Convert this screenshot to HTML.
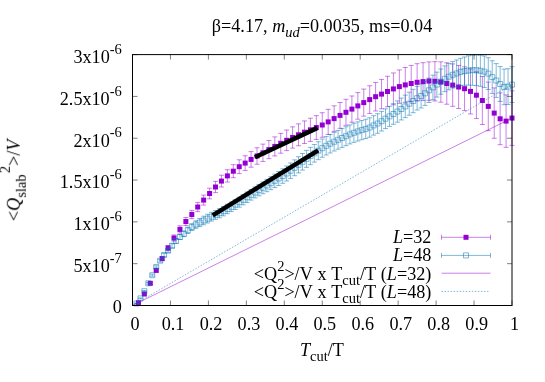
<!DOCTYPE html><html><head><meta charset="utf-8"><style>html,body{margin:0;padding:0;background:#fff}svg{display:block}text{font-family:"Liberation Serif",serif;fill:#000}</style></head><body>
<svg width="545" height="382" viewBox="0 0 545 382">
<rect width="545" height="382" fill="#fff"/>
<g>
<g stroke="#9400D3" stroke-width="0.5" fill="none">
<path d="M138.43 302.30V303.10"/><path d="M135.93 302.30h5"/><path d="M135.93 303.10h5"/>
<path d="M144.36 293.20V294.80"/><path d="M141.86 293.20h5"/><path d="M141.86 294.80h5"/>
<path d="M150.29 282.10V284.50"/><path d="M147.79 282.10h5"/><path d="M147.79 284.50h5"/>
<path d="M156.22 268.80V272.00"/><path d="M153.72 268.80h5"/><path d="M153.72 272.00h5"/>
<path d="M162.15 256.56V260.64"/><path d="M159.65 256.56h5"/><path d="M159.65 260.64h5"/>
<path d="M168.08 245.50V250.50"/><path d="M165.58 245.50h5"/><path d="M165.58 250.50h5"/>
<path d="M174.01 234.93V241.07"/><path d="M171.51 234.93h5"/><path d="M171.51 241.07h5"/>
<path d="M179.94 225.75V233.05"/><path d="M177.44 225.75h5"/><path d="M177.44 233.05h5"/>
<path d="M185.87 217.50V225.50"/><path d="M183.37 217.50h5"/><path d="M183.37 225.50h5"/>
<path d="M191.80 210.40V218.60"/><path d="M189.30 210.40h5"/><path d="M189.30 218.60h5"/>
<path d="M197.73 202.40V211.60"/><path d="M195.23 202.40h5"/><path d="M195.23 211.60h5"/>
<path d="M203.66 195.10V205.10"/><path d="M201.16 195.10h5"/><path d="M201.16 205.10h5"/>
<path d="M209.59 188.17V198.83"/><path d="M207.09 188.17h5"/><path d="M207.09 198.83h5"/>
<path d="M215.52 181.39V192.61"/><path d="M213.02 181.39h5"/><path d="M213.02 192.61h5"/>
<path d="M221.45 175.22V186.98"/><path d="M218.95 175.22h5"/><path d="M218.95 186.98h5"/>
<path d="M227.38 169.73V182.07"/><path d="M224.88 169.73h5"/><path d="M224.88 182.07h5"/>
<path d="M233.30 164.70V177.70"/><path d="M230.80 164.70h5"/><path d="M230.80 177.70h5"/>
<path d="M239.23 159.80V173.60"/><path d="M236.73 159.80h5"/><path d="M236.73 173.60h5"/>
<path d="M245.16 155.75V170.45"/><path d="M242.66 155.75h5"/><path d="M242.66 170.45h5"/>
<path d="M251.09 151.60V167.20"/><path d="M248.59 151.60h5"/><path d="M248.59 167.20h5"/>
<path d="M257.02 147.78V164.24"/><path d="M254.52 147.78h5"/><path d="M254.52 164.24h5"/>
<path d="M262.95 144.11V161.44"/><path d="M260.45 144.11h5"/><path d="M260.45 161.44h5"/>
<path d="M268.88 140.50V158.70"/><path d="M266.38 140.50h5"/><path d="M266.38 158.70h5"/>
<path d="M274.81 136.90V155.94"/><path d="M272.31 136.90h5"/><path d="M272.31 155.94h5"/>
<path d="M280.74 133.36V153.21"/><path d="M278.24 133.36h5"/><path d="M278.24 153.21h5"/>
<path d="M286.67 130.00V150.60"/><path d="M284.17 130.00h5"/><path d="M284.17 150.60h5"/>
<path d="M292.60 126.84V148.13"/><path d="M290.10 126.84h5"/><path d="M290.10 148.13h5"/>
<path d="M298.53 123.83V145.75"/><path d="M296.03 123.83h5"/><path d="M296.03 145.75h5"/>
<path d="M304.46 120.93V143.47"/><path d="M301.96 120.93h5"/><path d="M301.96 143.47h5"/>
<path d="M310.39 118.24V141.39"/><path d="M307.89 118.24h5"/><path d="M307.89 141.39h5"/>
<path d="M316.32 115.63V139.43"/><path d="M313.82 115.63h5"/><path d="M313.82 139.43h5"/>
<path d="M322.25 112.72V137.28"/><path d="M319.75 112.72h5"/><path d="M319.75 137.28h5"/>
<path d="M328.18 109.30V134.50"/><path d="M325.68 109.30h5"/><path d="M325.68 134.50h5"/>
<path d="M334.11 105.82V131.38"/><path d="M331.61 105.82h5"/><path d="M331.61 131.38h5"/>
<path d="M340.04 102.50V128.30"/><path d="M337.54 102.50h5"/><path d="M337.54 128.30h5"/>
<path d="M345.97 99.29V125.31"/><path d="M343.47 99.29h5"/><path d="M343.47 125.31h5"/>
<path d="M351.90 95.97V122.23"/><path d="M349.40 95.97h5"/><path d="M349.40 122.23h5"/>
<path d="M357.83 92.60V119.20"/><path d="M355.33 92.60h5"/><path d="M355.33 119.20h5"/>
<path d="M363.76 89.05V116.15"/><path d="M361.26 89.05h5"/><path d="M361.26 116.15h5"/>
<path d="M369.69 85.72V113.48"/><path d="M367.19 85.72h5"/><path d="M367.19 113.48h5"/>
<path d="M375.62 82.43V110.97"/><path d="M373.12 82.43h5"/><path d="M373.12 110.97h5"/>
<path d="M381.55 79.40V108.80"/><path d="M379.05 79.40h5"/><path d="M379.05 108.80h5"/>
<path d="M387.48 76.26V106.74"/><path d="M384.98 76.26h5"/><path d="M384.98 106.74h5"/>
<path d="M393.41 72.96V104.84"/><path d="M390.91 72.96h5"/><path d="M390.91 104.84h5"/>
<path d="M399.34 69.91V103.29"/><path d="M396.84 69.91h5"/><path d="M396.84 103.29h5"/>
<path d="M405.27 67.46V102.34"/><path d="M402.77 67.46h5"/><path d="M402.77 102.34h5"/>
<path d="M411.20 65.40V101.60"/><path d="M408.70 65.40h5"/><path d="M408.70 101.60h5"/>
<path d="M417.12 63.70V100.90"/><path d="M414.62 63.70h5"/><path d="M414.62 100.90h5"/>
<path d="M423.05 62.70V100.50"/><path d="M420.55 62.70h5"/><path d="M420.55 100.50h5"/>
<path d="M428.98 61.90V100.30"/><path d="M426.48 61.90h5"/><path d="M426.48 100.30h5"/>
<path d="M434.91 61.63V100.97"/><path d="M432.41 61.63h5"/><path d="M432.41 100.97h5"/>
<path d="M440.84 61.80V102.20"/><path d="M438.34 61.80h5"/><path d="M438.34 102.20h5"/>
<path d="M446.77 62.78V104.22"/><path d="M444.27 62.78h5"/><path d="M444.27 104.22h5"/>
<path d="M452.70 63.90V106.30"/><path d="M450.20 63.90h5"/><path d="M450.20 106.30h5"/>
<path d="M458.63 65.46V108.54"/><path d="M456.13 65.46h5"/><path d="M456.13 108.54h5"/>
<path d="M464.56 66.80V110.60"/><path d="M462.06 66.80h5"/><path d="M462.06 110.60h5"/>
<path d="M470.49 68.84V113.96"/><path d="M467.99 68.84h5"/><path d="M467.99 113.96h5"/>
<path d="M476.42 71.82V118.58"/><path d="M473.92 71.82h5"/><path d="M473.92 118.58h5"/>
<path d="M482.35 76.50V124.50"/><path d="M479.85 76.50h5"/><path d="M479.85 124.50h5"/>
<path d="M488.28 82.10V130.70"/><path d="M485.78 82.10h5"/><path d="M485.78 130.70h5"/>
<path d="M494.21 87.90V138.30"/><path d="M491.71 87.90h5"/><path d="M491.71 138.30h5"/>
<path d="M500.14 92.90V144.70"/><path d="M497.64 92.90h5"/><path d="M497.64 144.70h5"/>
<path d="M506.07 94.90V147.30"/><path d="M503.57 94.90h5"/><path d="M503.57 147.30h5"/>
<path d="M512.00 90.80V145.40"/><path d="M509.50 90.80h5"/><path d="M509.50 145.40h5"/>
</g>
<g fill="#9400D3">
<path d="M135.93 300.20h5v5h-5z"/>
<path d="M141.86 291.50h5v5h-5z"/>
<path d="M147.79 280.80h5v5h-5z"/>
<path d="M153.72 267.90h5v5h-5z"/>
<path d="M159.65 256.10h5v5h-5z"/>
<path d="M165.58 245.50h5v5h-5z"/>
<path d="M171.51 235.50h5v5h-5z"/>
<path d="M177.44 226.90h5v5h-5z"/>
<path d="M183.37 219.00h5v5h-5z"/>
<path d="M189.30 212.00h5v5h-5z"/>
<path d="M195.23 204.50h5v5h-5z"/>
<path d="M201.16 197.60h5v5h-5z"/>
<path d="M207.09 191.00h5v5h-5z"/>
<path d="M213.02 184.50h5v5h-5z"/>
<path d="M218.95 178.60h5v5h-5z"/>
<path d="M224.88 173.40h5v5h-5z"/>
<path d="M230.80 168.70h5v5h-5z"/>
<path d="M236.73 164.20h5v5h-5z"/>
<path d="M242.66 160.60h5v5h-5z"/>
<path d="M248.59 156.90h5v5h-5z"/>
<path d="M254.52 153.51h5v5h-5z"/>
<path d="M260.45 150.28h5v5h-5z"/>
<path d="M266.38 147.10h5v5h-5z"/>
<path d="M272.31 143.92h5v5h-5z"/>
<path d="M278.24 140.79h5v5h-5z"/>
<path d="M284.17 137.80h5v5h-5z"/>
<path d="M290.10 134.98h5v5h-5z"/>
<path d="M296.03 132.29h5v5h-5z"/>
<path d="M301.96 129.70h5v5h-5z"/>
<path d="M307.89 127.32h5v5h-5z"/>
<path d="M313.82 125.03h5v5h-5z"/>
<path d="M319.75 122.50h5v5h-5z"/>
<path d="M325.68 119.40h5v5h-5z"/>
<path d="M331.61 116.10h5v5h-5z"/>
<path d="M337.54 112.90h5v5h-5z"/>
<path d="M343.47 109.80h5v5h-5z"/>
<path d="M349.40 106.60h5v5h-5z"/>
<path d="M355.33 103.40h5v5h-5z"/>
<path d="M361.26 100.10h5v5h-5z"/>
<path d="M367.19 97.10h5v5h-5z"/>
<path d="M373.12 94.20h5v5h-5z"/>
<path d="M379.05 91.60h5v5h-5z"/>
<path d="M384.98 89.00h5v5h-5z"/>
<path d="M390.91 86.40h5v5h-5z"/>
<path d="M396.84 84.10h5v5h-5z"/>
<path d="M402.77 82.40h5v5h-5z"/>
<path d="M408.70 81.00h5v5h-5z"/>
<path d="M414.62 79.80h5v5h-5z"/>
<path d="M420.55 79.10h5v5h-5z"/>
<path d="M426.48 78.60h5v5h-5z"/>
<path d="M432.41 78.80h5v5h-5z"/>
<path d="M438.34 79.50h5v5h-5z"/>
<path d="M444.27 81.00h5v5h-5z"/>
<path d="M450.20 82.60h5v5h-5z"/>
<path d="M456.13 84.50h5v5h-5z"/>
<path d="M462.06 86.20h5v5h-5z"/>
<path d="M467.99 88.90h5v5h-5z"/>
<path d="M473.92 92.70h5v5h-5z"/>
<path d="M479.85 98.00h5v5h-5z"/>
<path d="M485.78 103.90h5v5h-5z"/>
<path d="M491.71 110.60h5v5h-5z"/>
<path d="M497.64 116.30h5v5h-5z"/>
<path d="M503.57 118.60h5v5h-5z"/>
<path d="M509.50 115.60h5v5h-5z"/>
</g>
<g stroke="#0072B2" stroke-width="0.5" fill="none">
<path d="M136.45 303.20V303.80"/><path d="M133.95 303.20h5"/><path d="M133.95 303.80h5"/><path d="M133.95 301.00h5v5h-5z"/>
<path d="M140.41 297.93V298.87"/><path d="M137.91 297.93h5"/><path d="M137.91 298.87h5"/><path d="M137.91 295.90h5v5h-5z"/>
<path d="M144.36 290.56V291.84"/><path d="M141.86 290.56h5"/><path d="M141.86 291.84h5"/><path d="M141.86 288.70h5v5h-5z"/>
<path d="M148.31 282.48V284.12"/><path d="M145.81 282.48h5"/><path d="M145.81 284.12h5"/><path d="M145.81 280.80h5v5h-5z"/>
<path d="M152.27 274.20V276.20"/><path d="M149.77 274.20h5"/><path d="M149.77 276.20h5"/><path d="M149.77 272.70h5v5h-5z"/>
<path d="M156.22 265.81V268.19"/><path d="M153.72 265.81h5"/><path d="M153.72 268.19h5"/><path d="M153.72 264.50h5v5h-5z"/>
<path d="M160.17 259.33V262.07"/><path d="M157.67 259.33h5"/><path d="M157.67 262.07h5"/><path d="M157.67 258.20h5v5h-5z"/>
<path d="M164.12 253.43V256.57"/><path d="M161.62 253.43h5"/><path d="M161.62 256.57h5"/><path d="M161.62 252.50h5v5h-5z"/>
<path d="M168.08 248.82V252.38"/><path d="M165.58 248.82h5"/><path d="M165.58 252.38h5"/><path d="M165.58 248.10h5v5h-5z"/>
<path d="M172.03 243.80V247.80"/><path d="M169.53 243.80h5"/><path d="M169.53 247.80h5"/><path d="M169.53 243.30h5v5h-5z"/>
<path d="M175.98 238.75V243.25"/><path d="M173.48 238.75h5"/><path d="M173.48 243.25h5"/><path d="M173.48 238.50h5v5h-5z"/>
<path d="M179.94 234.48V239.52"/><path d="M177.44 234.48h5"/><path d="M177.44 239.52h5"/><path d="M177.44 234.50h5v5h-5z"/>
<path d="M183.89 230.99V236.61"/><path d="M181.39 230.99h5"/><path d="M181.39 236.61h5"/><path d="M181.39 231.30h5v5h-5z"/>
<path d="M187.84 227.19V233.41"/><path d="M185.34 227.19h5"/><path d="M185.34 233.41h5"/><path d="M185.34 227.80h5v5h-5z"/>
<path d="M191.80 223.70V230.50"/><path d="M189.30 223.70h5"/><path d="M189.30 230.50h5"/><path d="M189.30 224.60h5v5h-5z"/>
<path d="M195.75 220.86V228.34"/><path d="M193.25 220.86h5"/><path d="M193.25 228.34h5"/><path d="M193.25 222.10h5v5h-5z"/>
<path d="M199.70 218.41V226.59"/><path d="M197.20 218.41h5"/><path d="M197.20 226.59h5"/><path d="M197.20 220.00h5v5h-5z"/>
<path d="M203.66 216.20V224.80"/><path d="M201.16 216.20h5"/><path d="M201.16 224.80h5"/><path d="M201.16 218.00h5v5h-5z"/>
<path d="M207.61 214.24V222.96"/><path d="M205.11 214.24h5"/><path d="M205.11 222.96h5"/><path d="M205.11 216.10h5v5h-5z"/>
<path d="M211.56 212.30V221.10"/><path d="M209.06 212.30h5"/><path d="M209.06 221.10h5"/><path d="M209.06 214.20h5v5h-5z"/>
<path d="M215.52 210.43V219.37"/><path d="M213.02 210.43h5"/><path d="M213.02 219.37h5"/><path d="M213.02 212.40h5v5h-5z"/>
<path d="M219.47 208.66V217.74"/><path d="M216.97 208.66h5"/><path d="M216.97 217.74h5"/><path d="M216.97 210.70h5v5h-5z"/>
<path d="M223.42 206.58V215.82"/><path d="M220.92 206.58h5"/><path d="M220.92 215.82h5"/><path d="M220.92 208.70h5v5h-5z"/>
<path d="M227.38 204.29V213.71"/><path d="M224.88 204.29h5"/><path d="M224.88 213.71h5"/><path d="M224.88 206.50h5v5h-5z"/>
<path d="M231.33 202.00V211.60"/><path d="M228.83 202.00h5"/><path d="M228.83 211.60h5"/><path d="M228.83 204.30h5v5h-5z"/>
<path d="M235.28 199.71V209.49"/><path d="M232.78 199.71h5"/><path d="M232.78 209.49h5"/><path d="M232.78 202.10h5v5h-5z"/>
<path d="M239.23 197.25V207.20"/><path d="M236.73 197.25h5"/><path d="M236.73 207.20h5"/><path d="M236.73 199.73h5v5h-5z"/>
<path d="M243.19 194.68V204.81"/><path d="M240.69 194.68h5"/><path d="M240.69 204.81h5"/><path d="M240.69 197.25h5v5h-5z"/>
<path d="M247.14 192.07V202.42"/><path d="M244.64 192.07h5"/><path d="M244.64 202.42h5"/><path d="M244.64 194.74h5v5h-5z"/>
<path d="M251.09 189.50V200.10"/><path d="M248.59 189.50h5"/><path d="M248.59 200.10h5"/><path d="M248.59 192.30h5v5h-5z"/>
<path d="M255.05 186.98V197.91"/><path d="M252.55 186.98h5"/><path d="M252.55 197.91h5"/><path d="M252.55 189.95h5v5h-5z"/>
<path d="M259.00 184.47V195.81"/><path d="M256.50 184.47h5"/><path d="M256.50 195.81h5"/><path d="M256.50 187.64h5v5h-5z"/>
<path d="M262.95 181.94V193.75"/><path d="M260.45 181.94h5"/><path d="M260.45 193.75h5"/><path d="M260.45 185.35h5v5h-5z"/>
<path d="M266.91 179.37V191.71"/><path d="M264.41 179.37h5"/><path d="M264.41 191.71h5"/><path d="M264.41 183.04h5v5h-5z"/>
<path d="M270.86 176.75V189.65"/><path d="M268.36 176.75h5"/><path d="M268.36 189.65h5"/><path d="M268.36 180.70h5v5h-5z"/>
<path d="M274.81 174.11V187.58"/><path d="M272.31 174.11h5"/><path d="M272.31 187.58h5"/><path d="M272.31 178.35h5v5h-5z"/>
<path d="M278.77 171.48V185.49"/><path d="M276.27 171.48h5"/><path d="M276.27 185.49h5"/><path d="M276.27 175.99h5v5h-5z"/>
<path d="M282.72 168.79V183.32"/><path d="M280.22 168.79h5"/><path d="M280.22 183.32h5"/><path d="M280.22 173.56h5v5h-5z"/>
<path d="M286.67 166.00V181.00"/><path d="M284.17 166.00h5"/><path d="M284.17 181.00h5"/><path d="M284.17 171.00h5v5h-5z"/>
<path d="M290.62 163.01V178.43"/><path d="M288.12 163.01h5"/><path d="M288.12 178.43h5"/><path d="M288.12 168.22h5v5h-5z"/>
<path d="M294.58 159.88V175.72"/><path d="M292.08 159.88h5"/><path d="M292.08 175.72h5"/><path d="M292.08 165.30h5v5h-5z"/>
<path d="M298.53 156.69V172.92"/><path d="M296.03 156.69h5"/><path d="M296.03 172.92h5"/><path d="M296.03 162.31h5v5h-5z"/>
<path d="M302.48 153.50V170.10"/><path d="M299.98 153.50h5"/><path d="M299.98 170.10h5"/><path d="M299.98 159.30h5v5h-5z"/>
<path d="M306.44 150.38V167.33"/><path d="M303.94 150.38h5"/><path d="M303.94 167.33h5"/><path d="M303.94 156.36h5v5h-5z"/>
<path d="M310.39 147.35V164.65"/><path d="M307.89 147.35h5"/><path d="M307.89 164.65h5"/><path d="M307.89 153.50h5v5h-5z"/>
<path d="M314.34 144.47V162.12"/><path d="M311.84 144.47h5"/><path d="M311.84 162.12h5"/><path d="M311.84 150.79h5v5h-5z"/>
<path d="M318.30 141.72V159.68"/><path d="M315.80 141.72h5"/><path d="M315.80 159.68h5"/><path d="M315.80 148.20h5v5h-5z"/>
<path d="M322.25 139.07V157.28"/><path d="M319.75 139.07h5"/><path d="M319.75 157.28h5"/><path d="M319.75 145.67h5v5h-5z"/>
<path d="M326.20 136.60V155.00"/><path d="M323.70 136.60h5"/><path d="M323.70 155.00h5"/><path d="M323.70 143.30h5v5h-5z"/>
<path d="M330.16 134.44V152.96"/><path d="M327.66 134.44h5"/><path d="M327.66 152.96h5"/><path d="M327.66 141.20h5v5h-5z"/>
<path d="M334.11 132.40V151.02"/><path d="M331.61 132.40h5"/><path d="M331.61 151.02h5"/><path d="M331.61 139.21h5v5h-5z"/>
<path d="M338.06 130.44V149.16"/><path d="M335.56 130.44h5"/><path d="M335.56 149.16h5"/><path d="M335.56 137.30h5v5h-5z"/>
<path d="M342.02 128.60V147.40"/><path d="M339.52 128.60h5"/><path d="M339.52 147.40h5"/><path d="M339.52 135.50h5v5h-5z"/>
<path d="M345.97 126.75V145.64"/><path d="M343.47 126.75h5"/><path d="M343.47 145.64h5"/><path d="M343.47 133.70h5v5h-5z"/>
<path d="M349.92 124.94V143.91"/><path d="M347.42 124.94h5"/><path d="M347.42 143.91h5"/><path d="M347.42 131.92h5v5h-5z"/>
<path d="M353.88 123.27V142.33"/><path d="M351.38 123.27h5"/><path d="M351.38 142.33h5"/><path d="M351.38 130.30h5v5h-5z"/>
<path d="M357.83 121.83V140.98"/><path d="M355.33 121.83h5"/><path d="M355.33 140.98h5"/><path d="M355.33 128.90h5v5h-5z"/>
<path d="M361.78 120.49V139.71"/><path d="M359.28 120.49h5"/><path d="M359.28 139.71h5"/><path d="M359.28 127.60h5v5h-5z"/>
<path d="M365.73 119.23V138.54"/><path d="M363.23 119.23h5"/><path d="M363.23 138.54h5"/><path d="M363.23 126.38h5v5h-5z"/>
<path d="M369.69 117.80V137.20"/><path d="M367.19 117.80h5"/><path d="M367.19 137.20h5"/><path d="M367.19 125.00h5v5h-5z"/>
<path d="M373.64 115.66V135.14"/><path d="M371.14 115.66h5"/><path d="M371.14 135.14h5"/><path d="M371.14 122.90h5v5h-5z"/>
<path d="M377.59 113.72V133.28"/><path d="M375.09 113.72h5"/><path d="M375.09 133.28h5"/><path d="M375.09 121.00h5v5h-5z"/>
<path d="M381.55 111.37V131.03"/><path d="M379.05 111.37h5"/><path d="M379.05 131.03h5"/><path d="M379.05 118.70h5v5h-5z"/>
<path d="M385.50 108.80V128.60"/><path d="M383.00 108.80h5"/><path d="M383.00 128.60h5"/><path d="M383.00 116.20h5v5h-5z"/>
<path d="M389.45 106.30V126.40"/><path d="M386.95 106.30h5"/><path d="M386.95 126.40h5"/><path d="M386.95 113.85h5v5h-5z"/>
<path d="M393.41 103.70V124.30"/><path d="M390.91 103.70h5"/><path d="M390.91 124.30h5"/><path d="M390.91 111.50h5v5h-5z"/>
<path d="M397.36 100.92V122.16"/><path d="M394.86 100.92h5"/><path d="M394.86 122.16h5"/><path d="M394.86 109.04h5v5h-5z"/>
<path d="M401.31 98.05V119.95"/><path d="M398.81 98.05h5"/><path d="M398.81 119.95h5"/><path d="M398.81 106.50h5v5h-5z"/>
<path d="M405.27 95.11V117.64"/><path d="M402.77 95.11h5"/><path d="M402.77 117.64h5"/><path d="M402.77 103.88h5v5h-5z"/>
<path d="M409.22 92.20V115.20"/><path d="M406.72 92.20h5"/><path d="M406.72 115.20h5"/><path d="M406.72 101.20h5v5h-5z"/>
<path d="M413.17 89.32V112.68"/><path d="M410.67 89.32h5"/><path d="M410.67 112.68h5"/><path d="M410.67 98.50h5v5h-5z"/>
<path d="M417.12 86.36V110.04"/><path d="M414.62 86.36h5"/><path d="M414.62 110.04h5"/><path d="M414.62 95.70h5v5h-5z"/>
<path d="M421.08 84.02V107.98"/><path d="M418.58 84.02h5"/><path d="M418.58 107.98h5"/><path d="M418.58 93.50h5v5h-5z"/>
<path d="M425.03 81.20V105.40"/><path d="M422.53 81.20h5"/><path d="M422.53 105.40h5"/><path d="M422.53 90.80h5v5h-5z"/>
<path d="M428.98 78.10V102.50"/><path d="M426.48 78.10h5"/><path d="M426.48 102.50h5"/><path d="M426.48 87.80h5v5h-5z"/>
<path d="M432.94 75.10V99.70"/><path d="M430.44 75.10h5"/><path d="M430.44 99.70h5"/><path d="M430.44 84.90h5v5h-5z"/>
<path d="M436.89 72.14V97.06"/><path d="M434.39 72.14h5"/><path d="M434.39 97.06h5"/><path d="M434.39 82.10h5v5h-5z"/>
<path d="M440.84 68.93V94.27"/><path d="M438.34 68.93h5"/><path d="M438.34 94.27h5"/><path d="M438.34 79.10h5v5h-5z"/>
<path d="M444.80 65.90V91.70"/><path d="M442.30 65.90h5"/><path d="M442.30 91.70h5"/><path d="M442.30 76.30h5v5h-5z"/>
<path d="M448.75 63.60V89.80"/><path d="M446.25 63.60h5"/><path d="M446.25 89.80h5"/><path d="M446.25 74.20h5v5h-5z"/>
<path d="M452.70 61.55V88.05"/><path d="M450.20 61.55h5"/><path d="M450.20 88.05h5"/><path d="M450.20 72.30h5v5h-5z"/>
<path d="M456.66 60.01V86.79"/><path d="M454.16 60.01h5"/><path d="M454.16 86.79h5"/><path d="M454.16 70.90h5v5h-5z"/>
<path d="M460.61 58.30V85.50"/><path d="M458.11 58.30h5"/><path d="M458.11 85.50h5"/><path d="M458.11 69.40h5v5h-5z"/>
<path d="M464.56 56.98V85.22"/><path d="M462.06 56.98h5"/><path d="M462.06 85.22h5"/><path d="M462.06 68.60h5v5h-5z"/>
<path d="M468.52 55.80V85.20"/><path d="M466.02 55.80h5"/><path d="M466.02 85.20h5"/><path d="M466.02 68.00h5v5h-5z"/>
<path d="M472.47 55.13V85.27"/><path d="M469.97 55.13h5"/><path d="M469.97 85.27h5"/><path d="M469.97 67.70h5v5h-5z"/>
<path d="M476.42 54.83V85.57"/><path d="M473.92 54.83h5"/><path d="M473.92 85.57h5"/><path d="M473.92 67.70h5v5h-5z"/>
<path d="M480.38 55.10V86.30"/><path d="M477.88 55.10h5"/><path d="M477.88 86.30h5"/><path d="M477.88 68.20h5v5h-5z"/>
<path d="M484.33 55.96V87.44"/><path d="M481.83 55.96h5"/><path d="M481.83 87.44h5"/><path d="M481.83 69.20h5v5h-5z"/>
<path d="M488.28 57.70V89.50"/><path d="M485.78 57.70h5"/><path d="M485.78 89.50h5"/><path d="M485.78 71.10h5v5h-5z"/>
<path d="M492.23 60.76V93.44"/><path d="M489.73 60.76h5"/><path d="M489.73 93.44h5"/><path d="M489.73 74.60h5v5h-5z"/>
<path d="M496.19 63.60V97.40"/><path d="M493.69 63.60h5"/><path d="M493.69 97.40h5"/><path d="M493.69 78.00h5v5h-5z"/>
<path d="M500.14 66.55V101.45"/><path d="M497.64 66.55h5"/><path d="M497.64 101.45h5"/><path d="M497.64 81.50h5v5h-5z"/>
<path d="M504.09 69.10V104.70"/><path d="M501.59 69.10h5"/><path d="M501.59 104.70h5"/><path d="M501.59 84.40h5v5h-5z"/>
<path d="M508.05 68.73V104.47"/><path d="M505.55 68.73h5"/><path d="M505.55 104.47h5"/><path d="M505.55 84.10h5v5h-5z"/>
<path d="M512.00 66.70V102.50"/><path d="M509.50 66.70h5"/><path d="M509.50 102.50h5"/><path d="M509.50 82.10h5v5h-5z"/>
</g>
<path d="M132.5 305.5L512.0 118.10" stroke="#9400D3" stroke-width="0.5" fill="none"/>
<path d="M132.5 305.5L512.0 84.60" stroke="#0072B2" stroke-width="0.5" stroke-dasharray="1.5 1.53" fill="none"/>
<path d="M255.0 157.2L317.4 127.9M212.7 215.4L318.2 150.4" stroke="#000" stroke-width="4.5" fill="none"/>
</g>
<path d="M132.50 305.5v-5M132.50 54.6v5M170.45 305.5v-5M170.45 54.6v5M208.40 305.5v-5M208.40 54.6v5M246.35 305.5v-5M246.35 54.6v5M284.30 305.5v-5M284.30 54.6v5M322.25 305.5v-5M322.25 54.6v5M360.20 305.5v-5M360.20 54.6v5M398.15 305.5v-5M398.15 54.6v5M436.10 305.5v-5M436.10 54.6v5M474.05 305.5v-5M474.05 54.6v5M512.00 305.5v-5M512.00 54.6v5M132.5 305.50h5M512.0 305.50h-5M132.5 263.68h5M512.0 263.68h-5M132.5 221.87h5M512.0 221.87h-5M132.5 180.05h5M512.0 180.05h-5M132.5 138.23h5M512.0 138.23h-5M132.5 96.42h5M512.0 96.42h-5M132.5 54.60h5M512.0 54.60h-5" stroke="#000" stroke-width="0.5" fill="none"/>
<rect x="132.5" y="54.6" width="379.5" height="250.90" fill="none" stroke="#000" stroke-width="1"/>
<path d="M441.5 237.3H490.5M441.5 234.8v5M490.5 234.8v5M441.5 273.2H490.5" stroke="#9400D3" stroke-width="0.5" fill="none"/>
<rect x="463.5" y="234.8" width="5" height="5" fill="#9400D3"/>
<path d="M441.5 255.4H490.5M441.5 252.9v5M490.5 252.9v5M463.5 252.9h5v5h-5z" stroke="#0072B2" stroke-width="0.5" fill="none"/>
<path d="M441.5 291.4H489.3" stroke="#0072B2" stroke-width="0.5" stroke-dasharray="1.5 1.53" fill="none"/>
<g font-size="18.17" opacity="0.999">
<text x="211.8" y="32">β=4.17, <tspan font-style="italic">m</tspan><tspan font-size="14.5" font-style="italic" dy="5.2">ud</tspan><tspan dy="-5.2">=0.0035, ms=0.04</tspan></text>
<text x="121.8" y="312.50" text-anchor="end">0</text>
<text x="121.8" y="272.08" text-anchor="end">5x10<tspan font-size="14.5" dy="-9.2">-7</tspan></text>
<text x="121.8" y="230.27" text-anchor="end">1x10<tspan font-size="14.5" dy="-9.2">-6</tspan></text>
<text x="121.8" y="188.45" text-anchor="end">1.5x10<tspan font-size="14.5" dy="-9.2">-6</tspan></text>
<text x="121.8" y="146.63" text-anchor="end">2x10<tspan font-size="14.5" dy="-9.2">-6</tspan></text>
<text x="121.8" y="104.82" text-anchor="end">2.5x10<tspan font-size="14.5" dy="-9.2">-6</tspan></text>
<text x="121.8" y="63.00" text-anchor="end">3x10<tspan font-size="14.5" dy="-9.2">-6</tspan></text>
<text x="135.10" y="330" text-anchor="middle">0</text>
<text x="173.05" y="330" text-anchor="middle">0.1</text>
<text x="211.00" y="330" text-anchor="middle">0.2</text>
<text x="248.95" y="330" text-anchor="middle">0.3</text>
<text x="286.90" y="330" text-anchor="middle">0.4</text>
<text x="324.85" y="330" text-anchor="middle">0.5</text>
<text x="362.80" y="330" text-anchor="middle">0.6</text>
<text x="400.75" y="330" text-anchor="middle">0.7</text>
<text x="438.70" y="330" text-anchor="middle">0.8</text>
<text x="476.65" y="330" text-anchor="middle">0.9</text>
<text x="514.60" y="330" text-anchor="middle">1</text>
<text x="299.9" y="355.6"><tspan font-style="italic">T</tspan><tspan font-size="14.5" dy="5">cut</tspan><tspan dy="-5">/T</tspan></text>
<text transform="translate(19.8 221.2) rotate(-90)">&lt;<tspan font-style="italic">Q</tspan><tspan font-size="14.5" dy="5.5">slab</tspan><tspan font-size="14.5" dy="-15.2" dx="1.3">2</tspan><tspan dy="9.7">&gt;/</tspan><tspan font-style="italic">V</tspan></text>
<text x="431.4" y="242.6" text-anchor="end"><tspan font-style="italic">L</tspan>=32</text>
<text x="431.4" y="260.8" text-anchor="end"><tspan font-style="italic">L</tspan>=48</text>
<text x="431.4" y="279.8" text-anchor="end" word-spacing="0.45">&lt;Q<tspan font-size="14.5" dy="-9.2">2</tspan><tspan dy="9.2">&gt;/V x T</tspan><tspan font-size="14.5" dy="5">cut</tspan><tspan dy="-5">/T (</tspan><tspan font-style="italic">L</tspan>=32)</text>
<text x="431.4" y="298.0" text-anchor="end" word-spacing="0.45">&lt;Q<tspan font-size="14.5" dy="-9.2">2</tspan><tspan dy="9.2">&gt;/V x T</tspan><tspan font-size="14.5" dy="5">cut</tspan><tspan dy="-5">/T (</tspan><tspan font-style="italic">L</tspan>=48)</text>
</g>
</svg></body></html>
